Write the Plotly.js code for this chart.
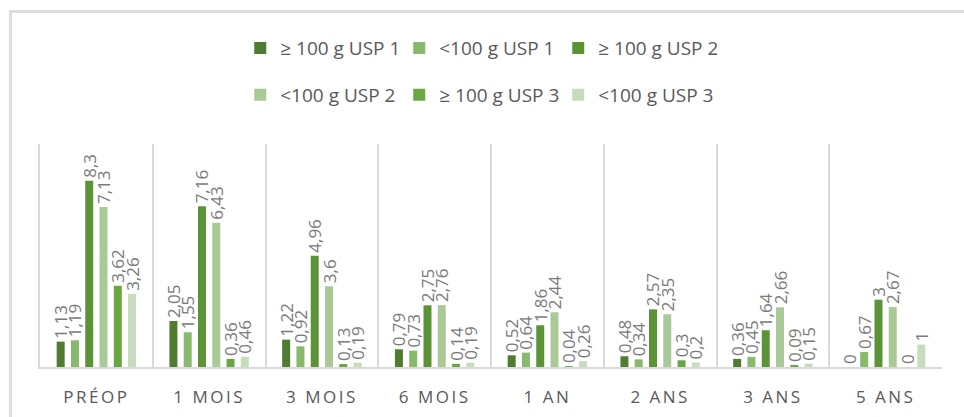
<!DOCTYPE html>
<html>
<head>
<meta charset="utf-8">
<script src="https://cdn.plot.ly/plotly-3.0.1.min.js"></script>
<style>
  html, body { margin: 0; padding: 0; background: #fff; }
  #wrap { position: relative; width: 964px; height: 417px; }
  #chart { width: 964px; height: 417px; }
  #frame { position: absolute; left: 9px; top: 10px; right: -5px; bottom: -5px;
           border-left: 3px solid #dedede; border-top: 3px solid #dedede; pointer-events: none; }
</style>
</head>
<body>
<div id="wrap"><div id="chart"></div><div id="frame"></div></div>
<script>
const categories = ["PRÉOP", "1 MOIS", "3 MOIS", "6 MOIS", "1 AN", "2 ANS", "3 ANS", "5 ANS"];
const seriesNames = ["≥ 100 g USP 1", "<100 g USP 1", "≥ 100 g USP 2", "<100 g USP 2", "≥ 100 g USP 3", "<100 g USP 3"];
const ge100_usp1 = [1.13, 2.05, 1.22, 0.79, 0.52, 0.48, 0.36, 0];
const lt100_usp1 = [1.19, 1.55, 0.92, 0.73, 0.64, 0.34, 0.45, 0.67];
const ge100_usp2 = [8.3, 7.16, 4.96, 2.75, 1.86, 2.57, 1.64, 3];
const lt100_usp2 = [7.13, 6.43, 3.6, 2.76, 2.44, 2.35, 2.66, 2.67];
const ge100_usp3 = [3.62, 0.36, 0.13, 0.14, 0.04, 0.3, 0.09, 0];
const lt100_usp3 = [3.26, 0.46, 0.19, 0.19, 0.26, 0.2, 0.15, 1];

const seriesValues = [ge100_usp1, lt100_usp1, ge100_usp2, lt100_usp2, ge100_usp3, lt100_usp3];
const colors = ["#507c31", "#88b96c", "#5c9337", "#a9ca96", "#6aa743", "#c6dcba"];
const legendIds = ["legend", "legend", "legend", "legend2", "legend2", "legend2"];

const fmt = v => String(v).replace(".", ",");

const traces = seriesValues.map((vals, i) => ({
  type: "bar",
  name: seriesNames[i],
  x: categories,
  y: vals,
  text: vals.map(fmt),
  textposition: "outside",
  textangle: -90,
  constraintext: "none",
  cliponaxis: false,
  textfont: { family: "Open Sans", size: 17, color: "#7a7a7a" },
  marker: { color: colors[i] },
  legend: legendIds[i],
  hoverinfo: "none"
}));

const legendCommon = {
  orientation: "h",
  xanchor: "left",
  yanchor: "middle",
  x: 0.222,
  font: { family: "Open Sans", size: 19, color: "#595959" },
  entrywidth: 114,
  entrywidthmode: "pixels",
  bgcolor: "rgba(0,0,0,0)"
};

const layout = {
  width: 964,
  height: 417,
  margin: { l: 40, r: 22, t: 144, b: 50 },
  paper_bgcolor: "#ffffff",
  plot_bgcolor: "#ffffff",
  barmode: "group",
  bargap: 0.24,
  bargroupgap: 0.44,
  showlegend: true,
  legend: Object.assign({}, legendCommon, { y: 1.43 }),
  legend2: Object.assign({}, legendCommon, { y: 1.22 }),
  xaxis: {
    type: "category",
    tickson: "boundaries",
    showgrid: true,
    gridcolor: "#d9d9d9",
    gridwidth: 2,
    showline: true,
    linecolor: "#d9d9d9",
    linewidth: 2,
    ticks: "",
    ticklabelstandoff: 14,
    tickfont: { family: "Open Sans", size: 17, color: "#595959" },
    fixedrange: true
  },
  yaxis: {
    range: [0, 9.94],
    visible: true,
    showticklabels: false,
    ticks: "",
    showline: true,
    linecolor: "#d9d9d9",
    linewidth: 2,
    showgrid: false,
    zeroline: false,
    fixedrange: true
  }
};

Plotly.newPlot("chart", traces, layout, { staticPlot: true, displayModeBar: false }).then(() => {
  document.querySelectorAll(".xtick text").forEach(t => { t.style.letterSpacing = "2.5px"; });
});
</script>
</body>
</html>
